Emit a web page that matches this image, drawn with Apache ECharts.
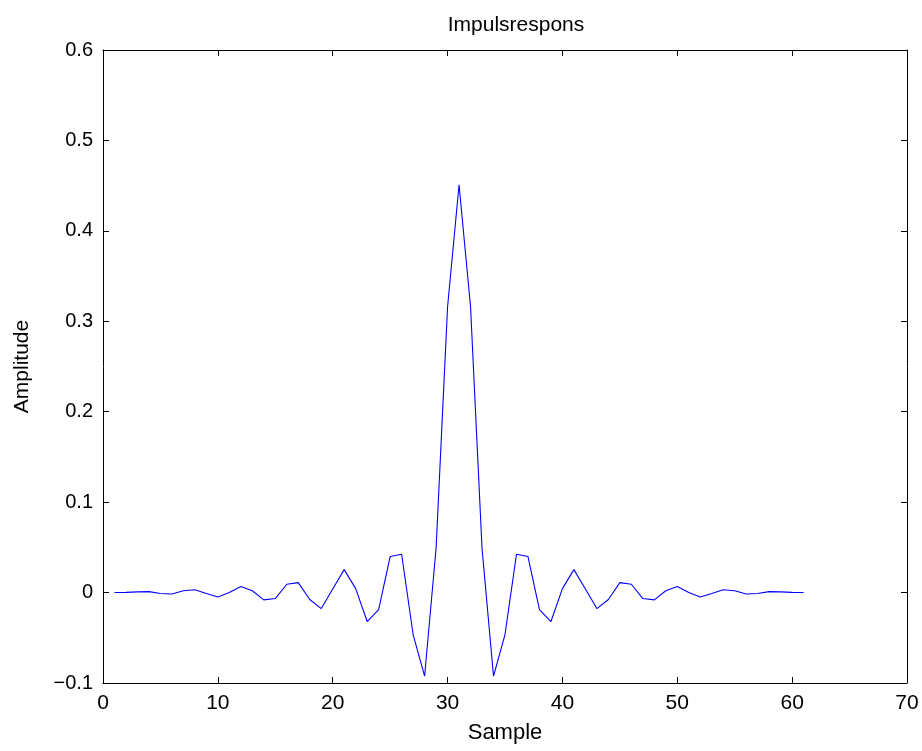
<!DOCTYPE html>
<html>
<head>
<meta charset="utf-8">
<script src="https://cdn.jsdelivr.net/npm/echarts@6/dist/echarts.min.js"></script>
<style>html,body{margin:0;padding:0;background:#fff}#c{width:922px;height:751px}</style>
</head>
<body>
<div id="c"></div>
<script>
var samples = [];
for (var i = 1; i <= 61; i++) samples.push(i);
var amplitude = [
  0.0000, 0.0002, 0.0008, 0.0010, -0.0010, -0.0015, 0.0020, 0.0032, -0.0010, -0.0048,
  0.0000, 0.0066, 0.0020, -0.0081, -0.0066, 0.0092, 0.0110, -0.0077, -0.0177, 0.0040,
  0.0254, 0.0044, -0.0320, -0.0188, 0.0398, 0.0424, -0.0464, -0.0925, 0.0490, 0.3160,
  0.4510,
  0.3160, 0.0490, -0.0925, -0.0464, 0.0424, 0.0398, -0.0188, -0.0320, 0.0044, 0.0254,
  0.0040, -0.0177, -0.0077, 0.0110, 0.0092, -0.0066, -0.0081, 0.0020, 0.0066, 0.0000,
  -0.0048, -0.0010, 0.0032, 0.0020, -0.0015, -0.0010, 0.0010, 0.0008, 0.0002, 0.0000
];
var xTicks = [0, 10, 20, 30, 40, 50, 60, 70];
var yTicks = [-0.1, 0, 0.1, 0.2, 0.3, 0.4, 0.5, 0.6];

var data = samples.map(function (s, i) { return [s, amplitude[i]]; });
var font = 'Liberation Sans, Arial, Helvetica, sans-serif';
function fmtY(v) {
  var r = Math.round(v * 10) / 10;
  if (r === 0) return '0';
  return (r < 0 ? '\u2212' : '') + Math.abs(r).toFixed(1);
}
var lineStyle = { color: '#000', width: 1 };
var chart = echarts.init(document.getElementById('c'), null, { renderer: 'canvas' });
chart.setOption({
  animation: false,
  backgroundColor: '#fff',
  title: {
    text: 'Impulsrespons', left: 511, top: 10, textAlign: 'center',
    textStyle: { fontFamily: font, fontSize: 21, fontWeight: 'normal', color: '#000' }
  },
  grid: { left: 103, right: 15, top: 50, bottom: 68, containLabel: false },
  xAxis: [{
    type: 'value', min: xTicks[0], max: xTicks[xTicks.length - 1], interval: 10,
    name: 'Sample', nameLocation: 'middle', nameGap: 39,
    nameTextStyle: { fontFamily: font, fontSize: 22, color: '#000' },
    axisLine: { show: true, onZero: false, lineStyle: lineStyle },
    axisTick: { show: true, inside: true, length: 6, lineStyle: lineStyle },
    axisLabel: { fontFamily: font, fontSize: 21, color: '#000', margin: 10 },
    splitLine: { show: false }
  }, {
    type: 'value', position: 'top', min: xTicks[0], max: xTicks[xTicks.length - 1], interval: 10,
    axisLine: { show: true, onZero: false, lineStyle: lineStyle },
    axisTick: { show: true, inside: true, length: 6, lineStyle: lineStyle },
    axisLabel: { show: false }, splitLine: { show: false }
  }],
  yAxis: [{
    type: 'value', min: yTicks[0], max: yTicks[yTicks.length - 1], interval: 0.1,
    name: 'Amplitude', nameLocation: 'middle', nameGap: 70, nameRotate: 90,
    nameTextStyle: { fontFamily: font, fontSize: 21, color: '#000' },
    axisLine: { show: true, onZero: false, lineStyle: lineStyle },
    axisTick: { show: true, inside: true, length: 6, lineStyle: lineStyle },
    axisLabel: { fontFamily: font, fontSize: 20, color: '#000', margin: 10, formatter: fmtY },
    splitLine: { show: false }
  }, {
    type: 'value', position: 'right', min: yTicks[0], max: yTicks[yTicks.length - 1], interval: 0.1,
    axisLine: { show: true, onZero: false, lineStyle: lineStyle },
    axisTick: { show: true, inside: true, length: 6, lineStyle: lineStyle },
    axisLabel: { show: false }, splitLine: { show: false }
  }],
  series: [{
    type: 'line', data: data, xAxisIndex: 0, yAxisIndex: 0,
    showSymbol: false, symbol: 'none',
    lineStyle: { color: '#0000ff', width: 1.1 },
    itemStyle: { color: '#0000ff' }
  }]
});
</script>
</body>
</html>
